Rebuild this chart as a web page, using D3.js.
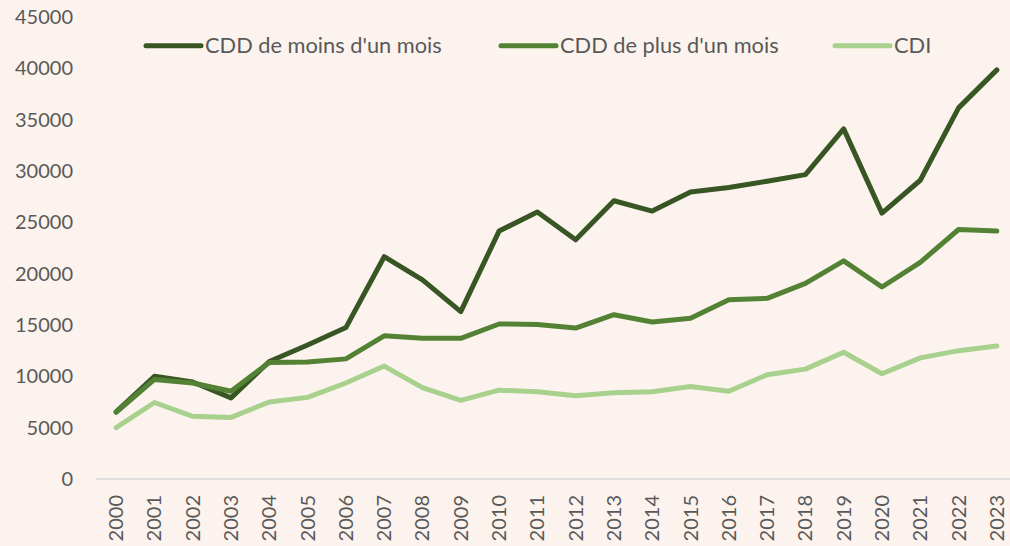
<!DOCTYPE html>
<html><head><meta charset="utf-8">
<script src="https://cdn.jsdelivr.net/npm/d3@7"></script>
<style>
html,body{margin:0;padding:0;background:#FCF3EE;}
svg{display:block;}
text{font-family:Lato,"Open Sans",sans-serif;fill:#595959;}
</style></head><body>
<svg id="c" width="1010" height="546"></svg>
<script>
const years = ["2000","2001","2002","2003","2004","2005","2006","2007","2008","2009","2010","2011","2012","2013","2014","2015","2016","2017","2018","2019","2020","2021","2022","2023"];
const cddMoins = [6550,10000,9450,7900,11450,13050,14750,21650,19400,16300,24150,26000,23300,27100,26100,27950,28400,29000,29650,34100,25900,29100,36150,39850];
const cddPlus = [6500,9700,9350,8550,11350,11400,11700,13950,13700,13700,15100,15050,14700,16000,15300,15650,17450,17600,19050,21250,18700,21100,24300,24150];
const cdi = [5000,7450,6100,6000,7500,7950,9350,11000,8900,7650,8650,8500,8100,8400,8500,9000,8550,10150,10700,12350,10250,11800,12500,12950];
const yTicks = [0,5000,10000,15000,20000,25000,30000,35000,40000,45000];
const seriesNames = ["CDD de moins d'un mois","CDD de plus d'un mois","CDI"];
const seriesColors = ["#375623","#548235","#A9D18E"];

const svg = d3.select("#c");
const x = d3.scalePoint().domain(years).range([97,1016]).padding(0.5);
const y = d3.scaleLinear().domain([0,45000]).range([479,17]);

// y tick labels
svg.append("g").selectAll("text").data(yTicks).join("text")
  .attr("x",73).attr("y",d=>y(d)).attr("dy","0.35em")
  .attr("text-anchor","end").style("font-size","20px").text(d=>d);

// x axis line
svg.append("line").attr("x1",96).attr("x2",1010).attr("y1",479).attr("y2",479)
  .attr("stroke","#D9D9D9").attr("stroke-width",1.5);

// x labels
svg.append("g").selectAll("text").data(years).join("text")
  .attr("transform",d=>`translate(${x(d)},495) rotate(-90)`)
  .attr("text-anchor","end").attr("dy","0.35em").style("font-size","20px").text(d=>d);

const line = d3.line().x((d,i)=>x(years[i])).y(d=>y(d));
[cddMoins,cddPlus,cdi].forEach((s,i)=>{
  svg.append("path").datum(s).attr("d",line).attr("fill","none")
    .attr("stroke",seriesColors[i]).attr("stroke-width",5)
    .attr("stroke-linejoin","round").attr("stroke-linecap","round");
});

// legend
const legX = [146,501,835];
seriesNames.forEach((n,i)=>{
  svg.append("line").attr("x1",legX[i]).attr("x2",legX[i]+55).attr("y1",45.7).attr("y2",45.7)
    .attr("stroke",seriesColors[i]).attr("stroke-width",5).attr("stroke-linecap","round");
  svg.append("text").attr("x",legX[i]+59).attr("y",45.7).attr("dy","0.35em")
    .style("font-size","21.8px").text(n);
});
</script>
</body></html>
